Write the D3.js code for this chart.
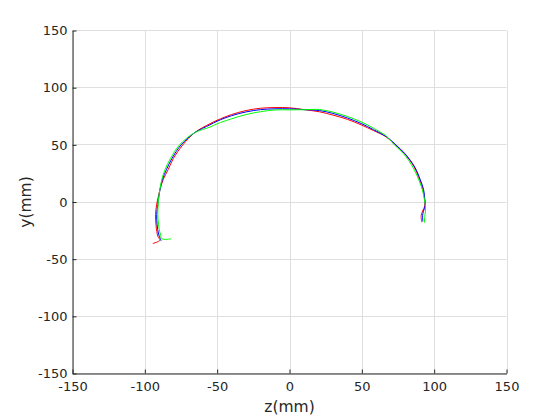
<!DOCTYPE html>
<html>
<head>
<meta charset="utf-8">
<script src="https://cdn.jsdelivr.net/npm/d3@7"></script>
<style>
  html, body { margin: 0; padding: 0; background: #fff; }
  svg { display: block; }
  text { font-family: "DejaVu Sans", sans-serif; fill: #262626; }
</style>
</head>
<body>
<svg id="chart" width="560" height="420"></svg>
<script>
// ---- data (z, y) in mm ----
const redZ = [-94.5,-89.6,-91,-92.2,-92.6,-91.8,-90.8,-89.5,-87.2,-83.8,-80.3,-73.7,-65.7,-55,-50,-40,-30,-20,-10,0,10,20.7,30,40,50,58,66.8,73,79.5,86,89.9,92.2,93.3,93.5,92,91,91.5];
const redY = [-36.3,-33.4,-30,-21,-11,-2,4,11,20,28.5,38,50,60.5,68.5,71.5,76.5,80,82,82.6,82.4,80.8,78.9,76,72.3,67.2,62.5,57,50,42.4,31,19.7,10.9,2.8,-3.5,-8,-12,-17.7];

const blueZ = [-88.7,-90.5,-91.5,-91.8,-91,-90.4,-89.5,-87.8,-85,-81.3,-74.9,-65.7,-55,-50,-40,-30,-20,-10,0,10,20.7,30,40,50,58,66.8,73.5,80,86.6,90.4,92.7,93.5,93.8,92.6,92,92.2];
const blueY = [-34,-28,-20,-11,-2,4,11,20,28.5,38,50,60.5,67.5,70.7,75.5,78.8,80.8,81.5,81.5,80.8,80,77.5,73.5,68.4,63.3,57.3,50,42,30.5,19.5,10.8,2.8,-3.5,-8,-12,-17];

const greenZ = [-81.8,-88.2,-89.3,-90.5,-91,-90.8,-90.4,-89.6,-88.2,-86,-82.3,-76,-65.7,-55,-50,-40,-30,-20,-10,0,10,20.7,30,40,50,58,66.8,72.5,79,85.5,89.5,92,93.3,94,94,93.5,93.3];
const greenY = [-32.2,-32.2,-28,-20,-11,-2,4,11,20,28.5,38,50,60.5,65.5,68.4,72.8,76.5,79,80.5,80.6,80.7,80.9,78.6,74.8,69.8,64.5,57.8,50,42,30,19,10,2,-4,-8,-12,-18.2];

const xTicks = [-150,-100,-50,0,50,100,150];
const yTicks = [-150,-100,-50,0,50,100,150];
const xLabel = "z(mm)";
const yLabel = "y(mm)";

// ---- layout ----
const svg = d3.select("#chart");
const L = 72.5, R = 506.5, T = 30.5, B = 373.5;
const x = d3.scaleLinear().domain([-150,150]).range([L,R]);
const y = d3.scaleLinear().domain([-150,150]).range([B,T]);

// grid
const grid = svg.append("g");
grid.selectAll("line.gx").data(xTicks).join("line")
  .attr("x1", d => Math.round(x(d)) + 0.5).attr("x2", d => Math.round(x(d)) + 0.5)
  .attr("y1", T).attr("y2", B).attr("stroke", "#dfdfdf").attr("stroke-width", 1);
grid.selectAll("line.gy").data(yTicks).join("line")
  .attr("y1", d => Math.round(y(d) - 0.5) + 0.5).attr("y2", d => Math.round(y(d) - 0.5) + 0.5)
  .attr("x1", L).attr("x2", R).attr("stroke", "#dfdfdf").attr("stroke-width", 1);

// axes
const fmt = d => String(d);
const xAxis = d3.axisBottom(x).tickValues(xTicks).tickFormat(fmt).tickSize(-4).tickPadding(8).tickSizeOuter(0);
const yAxis = d3.axisLeft(y).tickValues(yTicks).tickFormat(fmt).tickSize(-4).tickPadding(5).tickSizeOuter(0);

const gx = svg.append("g").attr("transform", `translate(0,${B})`).call(xAxis);
const gy = svg.append("g").attr("transform", `translate(${L},0)`).call(yAxis);
[gx, gy].forEach(g => {
  g.select(".domain").attr("stroke", "#262626");
  g.selectAll(".tick line").attr("stroke", "#262626");
  g.selectAll(".tick text").attr("font-family", "DejaVu Sans, sans-serif")
    .attr("font-size", 13).attr("fill", "#262626");
});

// labels
svg.append("text").attr("x", (L + R) / 2).attr("y", 412).attr("text-anchor", "middle")
  .attr("font-size", 15.5).text(xLabel);
svg.append("text").attr("transform", `translate(31,${(T + B) / 2}) rotate(-90)`)
  .attr("text-anchor", "middle").attr("font-size", 15.5).text(yLabel);

// curves
const line = d3.line().x(d => x(d[0])).y(d => y(d[1])).curve(d3.curveCatmullRom.alpha(0.5));
const series = [
  { z: redZ, v: redY, color: "#ff0000" },
  { z: blueZ, v: blueY, color: "#0000ff" },
  { z: greenZ, v: greenY, color: "#00ff00" }
];
svg.append("g").selectAll("path").data(series).join("path")
  .attr("d", s => line(s.z.map((zz, i) => [zz, s.v[i]])))
  .attr("fill", "none").attr("stroke", s => s.color).attr("stroke-width", 1);
</script>
</body>
</html>
